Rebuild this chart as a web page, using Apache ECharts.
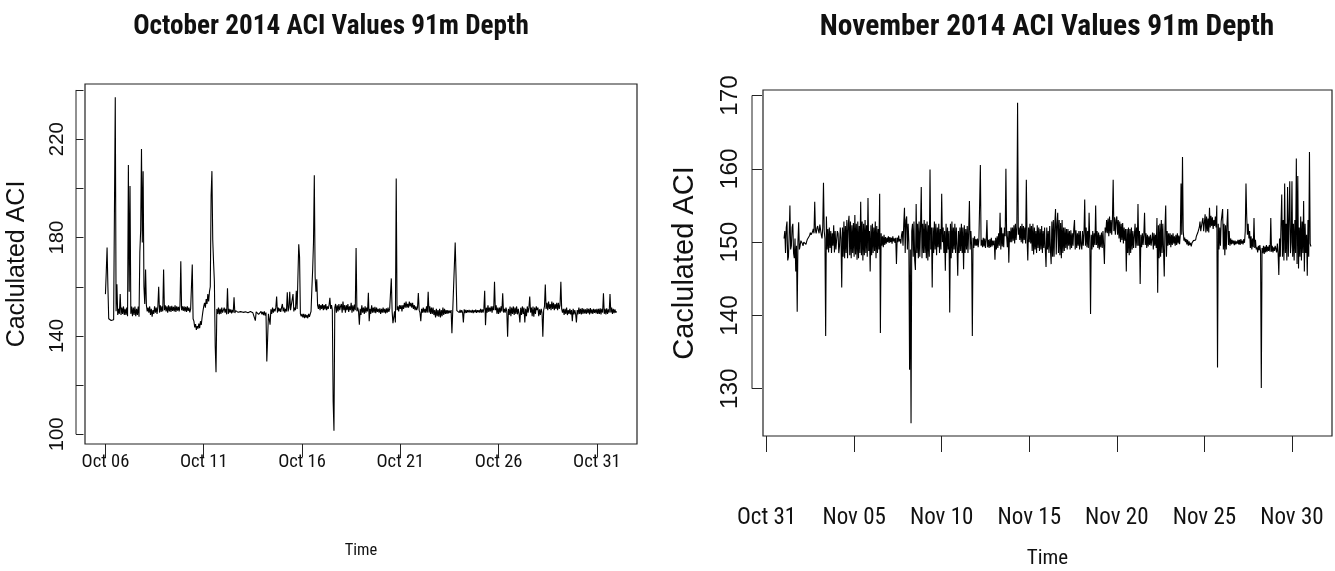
<!DOCTYPE html>
<html>
<head>
<meta charset="utf-8">
<script src="https://cdn.jsdelivr.net/npm/echarts@6.0.0/dist/echarts.min.js"></script>
<style>html,body{margin:0;padding:0;background:#fff}#c{width:1335px;height:571px}</style>
</head>
<body>
<div id="c"></div>
<script>
// ---------- data (hourly readings, one row = one day) ----------
const octStart = '2014-10-06T00:00:00Z';
const novStart = '2014-11-01T00:00:00Z';
const stepHours = 1;

const octValues = [
  157,166,176,160,147,146.5,147,146.3,146.8,146.2,146.6,146,237,150,161,148.5,151,149,157,148.5,151.5,149,152,148.5,
  151,148.5,151.5,148,209.5,158,201,149,152,148,151.5,148.5,152,148,151,148.5,152,147.8,174,183,216,178,207,160,
  153,167,152.5,150,151.5,149.5,152,148.5,151,147.8,150.5,149,152,149.5,151.5,149,152,160,149.5,152.5,149.8,152,150,167,
  150.5,152.5,150,152,149.5,152.5,150,152,149.8,152.2,150.2,151.8,150,152.5,149.8,152,150.3,151.8,150,152.3,170.4,150.5,152,150.2,
  152,150,151.8,149.8,152,150.2,151.5,149.6,151,150.5,169,147,146,143.5,144.8,142.5,144,143,145,143.2,146,144.5,147.5,150,
  152,153.5,151.5,155,153,157,154,158,160,197,207,179,170,162,136,125.3,151,149,151.5,148.8,151,149,151.5,149.5,
  149,151.5,149.5,151,148.8,159.4,149,151,149.5,150.8,149.2,150.6,149.5,155.7,149.3,150.3,149.5,150.2,149.6,150,149.5,149.9,149.6,149.8,
  149.6,149.9,149.5,149.8,149.5,149.7,149.4,149.8,149.6,149.9,149.5,149.7,149.4,149.8,149.6,146.2,149.8,149,150.2,148.8,149.6,149,150,148.8,
  149.8,148.5,150,148.3,149.5,129.6,139,149,148.5,144.6,150.8,149,151.5,149.5,151,150,151.5,156,149.5,151.5,150,151.2,149.8,151.5,
  153,150,151.5,149.5,151,150,157.8,150,151.5,158,150.5,151,149.8,157,150,151.5,150.5,158.4,151,150.5,177.3,172,149,148,
  149,147.5,149,147.2,148.8,147.5,148.5,147.2,149,147.8,148.5,150,159,167,178,205.3,164,158,163,152.5,151,153,150.5,152.5,
  151,153,150.5,152.5,150.8,153,150.5,152,151,152.5,155.5,151,152.5,150.5,113.5,101.5,151.5,153,149.5,152.5,150,153,150.5,152,
  153,149.5,154,150.5,152.5,149.5,152.5,150.5,153,149.8,152,150.5,153.5,149.5,152.5,150,152.8,150.5,175.8,150,151.5,150,144.6,151,
  148.5,152.5,149.5,151.5,149,152,149.5,151.5,150,157.6,146,151,149,152.5,149.5,151.5,149.5,151.8,149.3,151.5,149.8,151,149.5,151.2,
  149,151,149.5,151.5,149.5,151,149.2,151.2,149.5,151.5,149.8,151,150.5,163.4,150,145.2,146,150,145.5,204,150.5,152,150,152.5,
  151,152.5,150,152.5,151,153.5,151.5,154,151.5,153,151.5,154,152,153.5,151.5,153.5,151,152.5,150.5,152,150.5,151.5,157.4,150.5,
  149.5,146,151,149.5,151.5,149.5,151,149.5,152,149.5,158,149.5,152,149,151.5,149,151.5,148.5,150.5,147.5,151,148,150.5,147.8,
  151,147.5,150.5,148,151.5,148.5,151,149,150.5,149,150.5,149.2,150.3,149.4,150.5,141.1,150.2,149.6,150,178,165,150.3,149.5,150.4,
  149.5,150.6,149.4,150.5,149.6,145.5,150.8,149.3,150.6,149.4,150.5,149.6,150.6,149.5,150.4,149.5,150.6,149.3,150.5,149.6,150.7,149.4,150.5,149.6,
  150.5,149.5,151,149.5,150.8,149.5,151,158.4,144.4,151.5,149.5,152.5,149.8,151.5,150,152,149.5,152,150.5,162,150.5,152.5,149,151.5,
  149,151.5,149.5,152,150,157.4,149.5,151,149.5,151.5,150,139.7,151,148.5,152,148,151.5,149,152,148.5,151.5,149,152,148.8,
  151,149,145.5,151.5,148.5,152,149,151.5,145.5,151,148,152,149.5,151.5,156,149.5,151.5,148,152,147.8,151.5,149,152,150.5,
  151.5,148,150.8,148.5,151,149.5,139.7,150.5,152,160.9,151,153.5,150.5,154,151,153,150.5,154,151,153.5,150.5,153,151,153.5,
  150.5,153.5,151,152.5,162,151,149.5,151,148.5,151,149,151.5,148.5,150.5,149,151,148.8,150.5,146,151,148.8,150.5,149,145.5,
  150.5,148.8,151.5,149,151,148.8,151.3,149,151,149.2,150.8,149,151.2,149.3,151,148.8,151.3,149.2,150.8,149,151,149.4,150.8,149.2,
  151,149,151,149,151.2,148.8,151,149.5,157.4,149,151,148.8,151.2,149,150.8,149.5,157,149.5,151.5,149,151,149.3,150.8,149.5,
  150
];

const novValues = [
  150.5,151.5,148.5,152,152.8,147.5,148,151,155,149,149.5,152,152.5,148.5,147.8,150.5,146,149.5,140.5,150,152.7,149,149.5,150.2,
  150.2,149.8,149.5,150,150.1,149.8,149.7,150.1,150.4,150.3,150.6,150.9,151.3,151,150.9,151.4,151.8,151.2,155.5,151.6,151.2,151.9,152.2,151.6,
  151.2,152.4,152.6,151,150.5,152,158.1,151.5,150.5,137.2,153.5,149,151.8,148.6,152,149.2,151.5,148.5,151.2,149.5,152.3,148.6,151.5,149,
  148.8,151.5,151.2,148.5,149.5,152,150.5,143.8,152,148,152.8,147.8,152.2,148.5,153,147.8,152.5,153.6,148.2,152.8,147.8,152.3,148.5,152.6,
  148,153.7,148.3,152.5,147.6,152.8,147.8,152.2,148.5,155.5,148.2,152.8,147.5,152.5,148.2,153,148.5,152.3,148,156,148.8,151.5,146,152.3,
  148.2,152.5,148.5,152,148.8,152.8,147.8,152.2,148.5,151.8,149,156.6,137.6,151.2,149.5,150.8,149.3,151,149.6,150.7,149.8,150.6,150,150.8,
  149.9,150.7,150,150.6,149.8,150.8,150.1,150.5,149.9,150.6,147,150.6,150,150.9,150.1,150.4,149.8,151,151.5,149.5,152.5,154.7,148.5,153,
  153.5,149,152.5,150,132.6,149,125.3,151.5,152.5,148,152.8,147.5,146.2,155.2,148.5,152.5,147.8,152.8,148,152,157.5,147.8,152.5,148.5,
  153,148.5,152.5,147.8,152.8,147.5,152.3,148,159.9,149,152,143.8,152,148.5,152.8,149,152.5,148.2,152,149.3,152.5,148.5,151.8,149,
  156.6,150,152,148.5,151.5,146.1,152.5,148.5,152,149,151.5,140.4,152.5,147.8,152.8,148.5,152,149,152.5,148.5,152,149.5,145.4,151.5,
  148.5,152,148.8,152.5,148.5,152,146.3,152.3,148.5,151.8,149,152.2,148.5,151.5,155.6,149,151.5,149.5,137.2,150.6,149.2,150.8,149.5,150.4,
  149.5,150.5,149.3,150.4,155.2,160.5,149.5,150.3,149.3,150.6,149.4,150.5,149.2,150.3,153,149.3,150.3,149.2,150.4,149.3,150.6,149.4,150.2,149.6,
  150.2,147.6,150.6,149,150.8,149.2,151.2,149.5,154,149,152,149.4,151.2,149.3,152,150.8,160,150.8,149.3,151.5,147.2,151.5,150,152,
  150,152,150.2,152.3,149.8,152.5,150.3,152,169,151,152,150.3,152.2,150,152.5,149.8,152.2,150.3,152,149.8,158.5,150.5,147.5,152,
  150,152.5,149.8,152.2,148.8,152.5,148.3,152,149,151.5,148.5,152.3,149.2,152,148.8,151.8,149,152.2,148.5,151.5,149.2,152,149,146.6,
  152,149,151.5,148.5,152.2,149,147,152.8,148,153,148,152.5,154.5,148.3,152.5,154,148.5,153,148.2,152.6,147.8,153,148.5,152,
  148.8,152,149.2,151.8,149,151.8,149.5,151.5,149,151.6,149.2,151.2,149.5,151.8,153,149,151.6,149.2,151.2,149.5,151.5,149,151.5,149.6,
  149,151.5,149.5,151.2,155.8,149.5,152,149.3,151.5,149.2,154,150,140.2,151,149,151.5,149.3,151.2,149.6,155,149.6,151.5,149.2,151.3,
  149,151,149.3,151.3,149.2,151.5,149.5,147,152,151.3,153,151.2,153.2,150.8,153.5,151.2,153,151,153.2,158.5,151.5,153.4,151,153,
  153.5,151,153,150.5,152.8,150,152.5,150.3,152.6,149.8,152,150.2,151.8,146,151.8,148.5,152,148.2,151.8,148.5,152,149,151.5,149.2,
  149,152.5,149.2,152,149.5,155.2,149.5,151.5,144.3,151,149.3,151.2,149.6,151,154,149.6,151.2,149.2,151,149.4,150.8,149.6,151,149.5,
  149.6,151.3,149,151.2,149.5,151,149.2,153.3,143.1,152.3,147.8,152.5,148,153,148.5,152.5,149,145.3,152,155,148,151.5,149.5,151.2,
  149.6,151.2,149.3,151,149.6,151.2,149.8,150.8,149.5,151,149.6,151.2,149.8,150.9,149.7,151,158,151,161.6,151.5,150.2,150.6,150,150.4,
  149.7,150.3,149.5,150.1,149.6,149.9,149.4,149.9,149.7,150.2,150.1,150.4,150.3,150.8,151,151.3,151.3,152,152.8,151.5,151.5,152.8,153.3,151.5,
  151.7,153.8,151.3,153.5,151.5,153.2,151.3,154.7,152,153.6,152.2,153.4,151.8,153,152.2,153.5,152,155,132.9,152.5,149,152,149.5,152.8,
  153,154.5,149,152.5,148.2,152.3,149,152.5,154.5,149.6,151.5,149.5,150.5,149.7,150.3,149.8,150.2,149.6,150.2,149.7,150.1,149.8,150.3,149.7,
  150.3,149.6,150.4,149.8,150.2,149.7,150.4,149.9,151.5,158,153.5,151,152.5,150.5,151.5,149.2,150.8,149,150.5,149.3,153.3,149.2,150.3,149,
  149.3,148.6,149.5,148.9,149.6,148.7,130.1,149.2,148.5,149.5,148.4,149.4,148.6,149.6,148.7,149.4,148.8,149.6,148.7,153.3,148.7,149.5,148.6,149.3,
  148.8,149.5,149.3,148.6,149.8,148.5,145.5,150.5,148,152.5,156.5,148,153,147.5,158,148.5,152.5,147.5,157.5,148,153,158.3,148.5,150,
  158.3,148,152.5,147.5,153,148.5,161.4,147,159,146.4,152,148,153.5,147.5,152.8,148.5,155.6,146,152.5,148.5,151,145.4,153,148,
  162.3,149.8,149.4
];

const octTickDates = ['2014-10-06','2014-10-11','2014-10-16','2014-10-21','2014-10-26','2014-10-31'];
const octTickLabels = ['Oct 06','Oct 11','Oct 16','Oct 21','Oct 26','Oct 31'];
const novTickDates = ['2014-10-31','2014-11-05','2014-11-10','2014-11-15','2014-11-20','2014-11-25','2014-11-30'];
const novTickLabels = ['Oct 31','Nov 05','Nov 10','Nov 15','Nov 20','Nov 25','Nov 30'];
const octYTicks = [100,120,140,160,180,200,220,240];
const octYLabels = [100,140,180,220];
const novYTicks = [130,140,150,160,170];
const novYLabels = [130,140,150,160,170];
const chartTitles = ['October 2014 ACI Values 91m Depth','November 2014 ACI Values 91m Depth'];
const yAxisTitle = 'Caclulated ACI';
const xAxisTitle = 'Time';

// ---------- helpers ----------
const HOUR = 3600e3;
function toSeries(startIso, vals) {
  const t0 = Date.parse(startIso);
  return vals.map((v, i) => [t0 + i * stepHours * HOUR, v]);
}
function rRange(lo, hi) { const p = (hi - lo) * 0.04; return [lo - p, hi + p]; }
function dayMs(d) { return Date.parse(d + 'T00:00:00Z'); }

const octData = toSeries(octStart, octValues);
const novData = toSeries(novStart, novValues);
const octX = rRange(octData[0][0], octData[octData.length - 1][0]);
const novX = rRange(novData[0][0], novData[novData.length - 1][0]);
const octY = rRange(Math.min(...octValues), Math.max(...octValues));
const novY = rRange(Math.min(...novValues), Math.max(...novValues));
const octTicks = octTickDates.map(dayMs);
const novTicks = novTickDates.map(dayMs);
function labeler(ticks, labels) {
  return v => { const i = ticks.findIndex(t => Math.abs(t - v) < 1000); return i >= 0 ? labels[i] : ''; };
}

const NARROW = "'Roboto Condensed','Liberation Sans',Arial,sans-serif";
const REG = "'Liberation Sans',Arial,sans-serif";
const INK = '#111';
const BOX = '#222';
const yOffsets = [9, 11];

const chart = echarts.init(document.getElementById('c'), null, { renderer: 'canvas' });

const option = {
  animation: false,
  backgroundColor: '#fff',
  title: [
    { text: chartTitles[0], left: 331, top: 14, textAlign: 'center', padding: 0,
      textStyle: { fontFamily: NARROW, fontWeight: 'bold', fontSize: 27.2, color: INK } },
    { text: chartTitles[1], left: 1047, top: 13, textAlign: 'center', padding: 0,
      textStyle: { fontFamily: NARROW, fontWeight: 'bold', fontSize: 29.4, color: INK } }
  ],
  grid: [
    { left: 85, top: 84, width: 552, height: 360, show: true, borderColor: BOX, borderWidth: 1.2,
      backgroundColor: 'transparent', outerBoundsMode: 'none', containLabel: false },
    { left: 763, top: 90, width: 569, height: 346, show: true, borderColor: BOX, borderWidth: 1.2,
      backgroundColor: 'transparent', outerBoundsMode: 'none', containLabel: false }
  ],
  xAxis: [
    { type: 'value', gridIndex: 0, min: octX[0], max: octX[1],
      axisLine: { show: false }, splitLine: { show: false },
      axisTick: { show: true, customValues: octTicks, length: 13, lineStyle: { color: BOX, width: 1 } },
      axisLabel: { customValues: octTicks, formatter: labeler(octTicks, octTickLabels),
        fontFamily: NARROW, fontSize: 18.5, color: INK, margin: 9 },
      name: xAxisTitle, nameLocation: 'middle', nameGap: 98,
      nameTextStyle: { fontFamily: NARROW, fontSize: 16.5, color: INK } },
    { type: 'value', gridIndex: 1, min: novX[0], max: novX[1],
      axisLine: { show: false }, splitLine: { show: false },
      axisTick: { show: true, customValues: novTicks, length: 16, lineStyle: { color: BOX, width: 1 } },
      axisLabel: { customValues: novTicks, formatter: labeler(novTicks, novTickLabels),
        fontFamily: NARROW, fontSize: 23, color: INK, margin: 71 },
      name: xAxisTitle, nameLocation: 'middle', nameGap: 112,
      nameTextStyle: { fontFamily: NARROW, fontSize: 21, color: INK } }
  ],
  yAxis: [
    { type: 'value', gridIndex: 0, min: octY[0], max: octY[1], offset: yOffsets[0],
      axisLine: { show: false }, splitLine: { show: false },
      axisTick: { show: true, inside: true, customValues: octYTicks, length: 7.5, lineStyle: { color: BOX, width: 1 } },
      axisLabel: { customValues: octYLabels, rotate: 90, fontFamily: REG, fontSize: 20.4, color: INK, margin: 9 },
      name: yAxisTitle, nameLocation: 'middle', nameGap: 46,
      nameTextStyle: { fontFamily: REG, fontSize: 25, color: INK } },
    { type: 'value', gridIndex: 1, min: novY[0], max: novY[1], offset: yOffsets[1],
      axisLine: { show: false }, splitLine: { show: false },
      axisTick: { show: true, inside: true, customValues: novYTicks, length: 10, lineStyle: { color: BOX, width: 1 } },
      axisLabel: { customValues: novYLabels, rotate: 90, fontFamily: REG, fontSize: 24.4, color: INK, margin: 10 },
      name: yAxisTitle, nameLocation: 'middle', nameGap: 53,
      nameTextStyle: { fontFamily: REG, fontSize: 29, color: INK } }
  ],
  series: [
    { type: 'line', xAxisIndex: 0, yAxisIndex: 0, data: octData, showSymbol: false, symbol: 'none',
      lineStyle: { color: '#000', width: 1.1 }, itemStyle: { color: '#000' }, silent: true },
    { type: 'line', xAxisIndex: 1, yAxisIndex: 1, data: novData, showSymbol: false, symbol: 'none',
      lineStyle: { color: '#000', width: 1.1 }, itemStyle: { color: '#000' }, silent: true }
  ]
};
chart.setOption(option);

// y axis lines, offset from the box and spanning first..last tick (R style)
function axisLineGraphic(idx, xr, ticks) {
  const xLeft = chart.convertToPixel({ xAxisIndex: idx }, xr[0]) - yOffsets[idx];
  const yTop = chart.convertToPixel({ yAxisIndex: idx }, ticks[ticks.length - 1]);
  const yBot = chart.convertToPixel({ yAxisIndex: idx }, ticks[0]);
  return { type: 'line', silent: true, shape: { x1: xLeft, y1: yTop, x2: xLeft, y2: yBot },
    style: { stroke: BOX, lineWidth: 1 } };
}
chart.setOption({
  graphic: [
    axisLineGraphic(0, octX, octYTicks),
    axisLineGraphic(1, novX, novYTicks)
  ]
});
</script>
</body>
</html>
